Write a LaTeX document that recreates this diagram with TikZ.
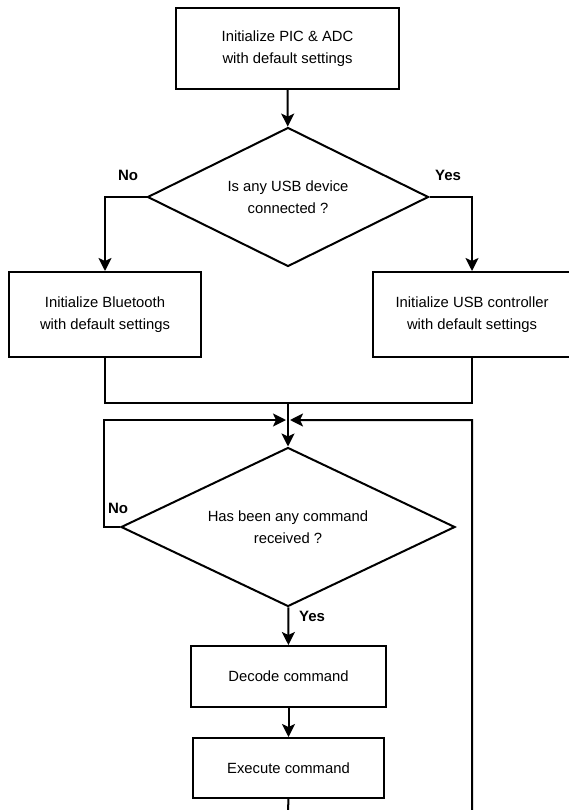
\documentclass[tikz,border=0pt]{standalone}
\usepackage{fontspec}
\setmainfont{Liberation Sans}
\usetikzlibrary{shapes.geometric, arrows.meta}

\begin{document}
\begin{tikzpicture}[x=1pt, y=-1pt]

\tikzset{block/.style = {shape=rectangle, draw, line width=2pt, align=center,
  font=\fontsize{14.8}{22}\selectfont}}
\tikzset{decision/.style = {shape=diamond, draw, line width=2pt, align=center,
  inner sep=0pt, aspect=2, font=\fontsize{14.8}{22}\selectfont}}
\tikzset{edge/.style = {line width=2pt, -{Stealth[length=13pt,width=13pt,inset=3pt]}}}
\tikzset{line/.style = {line width=2pt}}
\tikzset{answer/.style = {font=\fontsize{15}{18}\selectfont\bfseries}}

\useasboundingbox (0,0) rectangle (569,810);
\clip (0,0) rectangle (569,810);

%blocks
\node[block, minimum width=223pt, minimum height=81pt] (init) at (287.5,48.5) {Initialize PIC \& ADC\\with default settings};
\node[decision, minimum width=281pt, minimum height=139pt] (usbq) at (288,197) {Is any USB device\\connected ?};
\node[block, minimum width=192pt, minimum height=85pt] (bt) at (105,314.5) {Initialize Bluetooth\\with default settings};
\node[block, minimum width=198pt, minimum height=85pt] (usb) at (472,314.5) {Initialize USB controller\\with default settings};
\node[decision, minimum width=334pt, minimum height=159pt] (cmdq) at (288,527) {Has been any command\\received ?};
\node[block, minimum width=195pt, minimum height=61pt] (dec) at (288.5,676.5) {Decode command};
\node[block, minimum width=191pt, minimum height=60pt] (exe) at (288.5,768) {Execute command};

%answers
\node[answer] (usbno) at (128,175) {No};
\node[answer] (usbyes) at (448,175) {Yes};
\node[answer] (cmdno) at (118,508) {No};
\node[answer] (cmdyes) at (312,616) {Yes};

%corners
\coordinate (merge) at (288,403);
\coordinate (joinl) at (286,420);
\coordinate (joinr) at (290,420);
\coordinate (nocorner) at (104,420);
\coordinate (loopcorner) at (472,420);
\coordinate (down) at (288,840);

%edges
\draw[edge] (init) -- (usbq);
\draw[edge] (usbq.west) -| (bt);
\draw[edge] (usbq.east) -| (usb);
\draw[line] (bt) |- (merge) -| (usb);
\draw[edge] (merge) -- (cmdq);
\draw[edge] (cmdq.west) -| (nocorner) -- (joinl);
\draw[edge] (cmdq) -- (dec);
\draw[edge] (dec) -- (exe);
\draw[edge] (exe) -- (down) -| (loopcorner) -- (joinr);

\end{tikzpicture}
\end{document}
